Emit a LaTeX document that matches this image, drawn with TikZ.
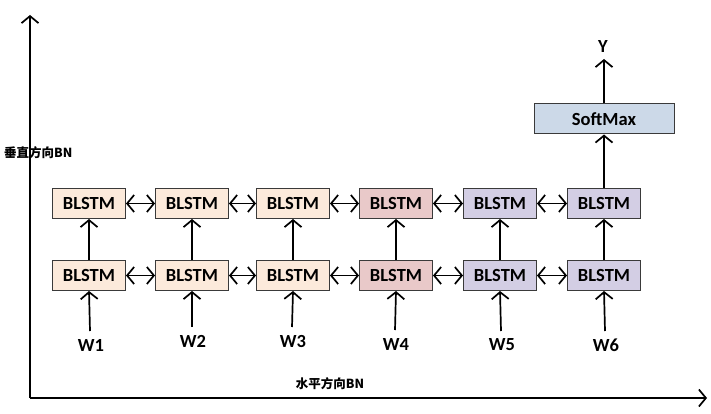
\documentclass[tikz,border=0pt]{standalone}
\usepackage{fontspec}
\setmainfont{Carlito}
\newfontfamily\cjk{Noto Sans CJK SC}
\usetikzlibrary{arrows.meta}
\definecolor{peach}{HTML}{FCEADB}
\definecolor{rose}{HTML}{E9C9C9}
\definecolor{lav}{HTML}{D3CEE4}
\definecolor{sky}{HTML}{CCD9E8}
\definecolor{edge}{HTML}{3A3A3A}
\tikzset{
  cell/.style={draw=edge, line width=1pt, minimum width=73pt, minimum height=30pt, inner sep=0pt,
    font=\fontsize{18.5}{20}\selectfont\bfseries, text=black},
  lbl/.style={font=\fontsize{18.5}{20}\selectfont\bfseries, inner sep=0pt},
  cjklbl/.style={font=\cjk\fontsize{12.5}{14}\selectfont\bfseries, inner sep=0pt},
  con/.style={line width=1.7pt, arrows={-Straight Barb[length=7pt,width=17pt]}},
  bicon/.style={line width=1.7pt, arrows={Straight Barb[length=7pt,width=17pt]-Straight Barb[length=7pt,width=17pt]}},
  axis/.style={line width=1.7pt, arrows={-Straight Barb[length=7pt,width=17pt]}}
}
\begin{document}
\begin{tikzpicture}[x=1pt,y=-1pt]
\useasboundingbox[fill=white] (0,0) rectangle (711,414);
% axes
\coordinate (o) at (30,398);
\coordinate (yt) at (30,15);
\coordinate (xt) at (707,398);
\draw[axis] (o) -- (yt);
\draw[axis] (o) -- (xt);
\node[cjklbl, anchor=west] (vlab) at (4,153) {垂直方向BN};
\node[cjklbl] (hlab) at (330,384) {水平方向BN};
% boxes
\foreach \i/\x/\c in {1/89/peach,2/192/peach,3/293/peach,4/396/rose,5/500/lav,6/604/lav}{
  \node[cell, fill=\c] (t\i) at (\x,203.5) {BLSTM};
  \node[cell, fill=\c] (b\i) at (\x,275.5) {BLSTM};
}
\foreach \i/\x/\y in {1/91/345,2/193/341,3/293/341,4/396/344,5/502/345,6/606/345}{
  \node[lbl] (w\i) at (\x,\y) {W\i};
  \coordinate (ws\i) at (\x-1,\y-14);
  \draw[con] (ws\i) -- (b\i.south);
  \draw[con] (b\i.north) -- (t\i.south);
}
\foreach \i/\j in {1/2,2/3,3/4,4/5,5/6}{
  \draw[bicon] (t\i.east) -- (t\j.west);
  \draw[bicon] (b\i.east) -- (b\j.west);
}
\node[cell, fill=sky, minimum width=140pt] (sm) at (604,119) {SoftMax};
\draw[con] (t6.north) -- (sm.south);
\node[lbl] (y) at (603,47) {Y};
\coordinate (ye) at (604,59);
\draw[con] (sm.north) -- (ye);
\end{tikzpicture}
\end{document}
